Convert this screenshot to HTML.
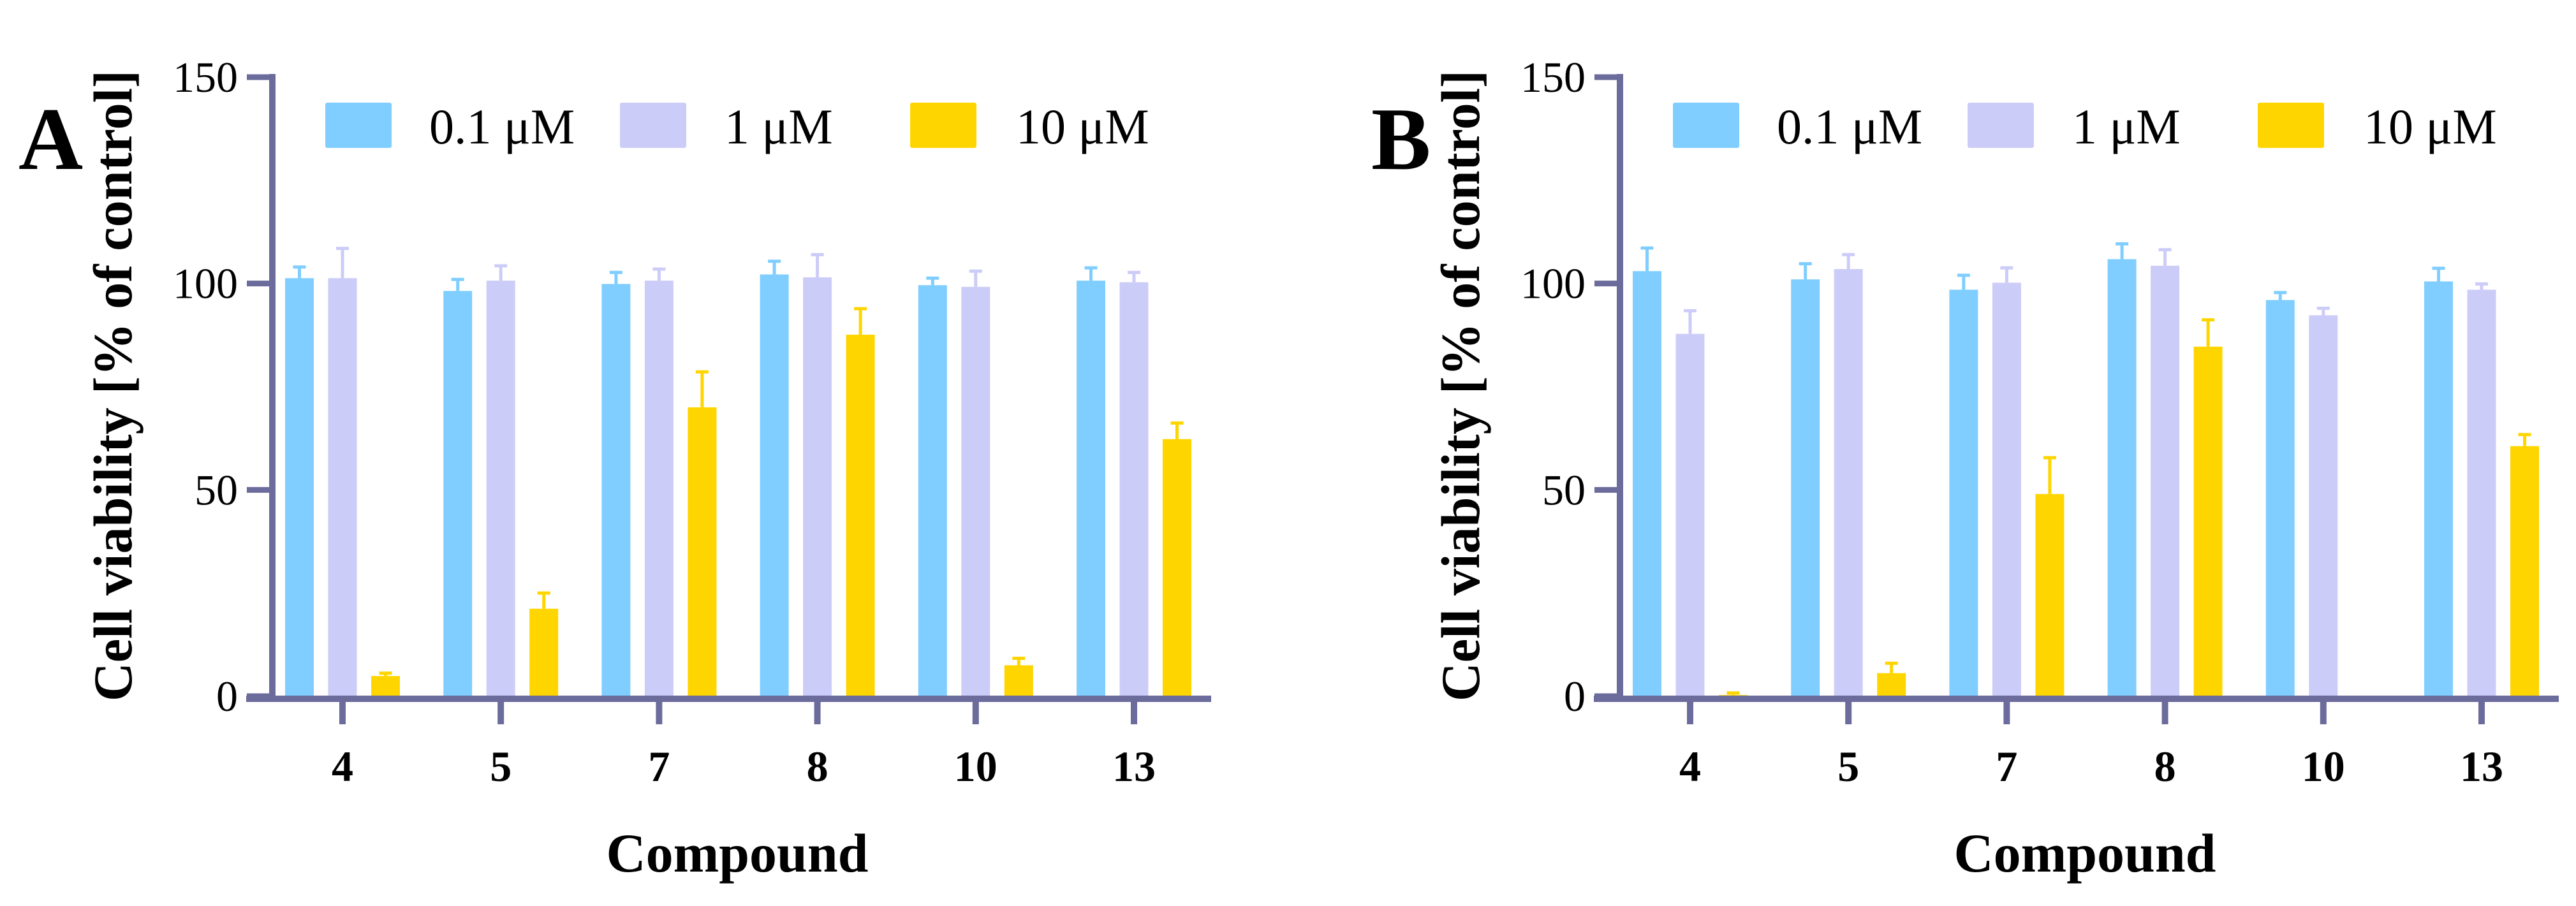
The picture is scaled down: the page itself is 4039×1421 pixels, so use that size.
<!DOCTYPE html>
<html><head><meta charset="utf-8"><style>
html,body{margin:0;padding:0;background:#fff;}
svg{display:block;}
text{font-family:"Liberation Serif",serif;}
</style></head><body>
<svg id="chart" width="4039" height="1421" viewBox="0 0 4039 1421" xmlns="http://www.w3.org/2000/svg"></svg>
<script>
const categories = ["4","5","7","8","10","13"];
const seriesNames = ["0.1 μM","1 μM","10 μM"];
const yTicks = [0,50,100,150];
// Panel A values and upper error ends
const aBlue = [101.3,98.2,99.9,102.2,99.6,100.7];
const aBlueErr = [104,101,102.7,105.4,101.3,103.8];
const aLav = [101.3,100.7,100.7,101.5,99.2,100.3];
const aLavErr = [108.5,104.3,103.5,107,103,102.7];
const aYel = [4.9,21.2,70,87.6,7.5,62.3];
const aYelErr = [5.6,25,78.6,93.9,9.2,66.2];
// Panel B
const bBlue = [103,101,98.5,105.9,96,100.5];
const bBlueErr = [108.6,104.8,102,109.6,97.8,103.7];
const bLav = [87.8,103.5,100.2,104.3,92.3,98.5];
const bLavErr = [93.4,107,103.8,108.2,94,99.9];
const bYel = [0.3,5.6,49,84.7,0,60.6];
const bYelErr = [0.8,8,57.8,91.2,0,63.4];

const NS="http://www.w3.org/2000/svg";
const svg=document.getElementById('chart');
const colors=["#80CEFF","#CCCCF8","#FFD500"];
const AX="#6B6B9C";
function mk(tag,attrs,parent){const e=document.createElementNS(NS,tag);for(const k in attrs)e.setAttribute(k,attrs[k]);(parent||svg).appendChild(e);return e;}
function yS(v){return 1092-(v/150)*(1092-121);}

function panel(off,letter,letterX,vals,errs,pname){
  const g=mk('g',{});
  
  
  const axX=427+off;
  function xS(i){return 537+off+i*248.2;}
  // bars
  for(let s=0;s<3;s++){
    for(let i=0;i<categories.length;i++){
      const v=vals[s][i];
      const cx=xS(i)+(s-1)*67.5;
      const r=mk('rect',{x:cx-22.5,y:yS(v),width:45,height:Math.max(0,yS(0)-yS(v)),fill:colors[s]},g);
      
      
      const e=errs[s][i];
      if(e>v){
        const l=mk('line',{x1:cx,x2:cx,y1:yS(v),y2:yS(e),stroke:colors[s],'stroke-width':5},g);
        
        
        const c=mk('line',{x1:cx-10,x2:cx+10,y1:yS(e),y2:yS(e),stroke:colors[s],'stroke-width':5},g);
        
        
      }
    }
  }
  // axes
  const ya=mk('line',{x1:axX,x2:axX,y1:yS(150)-5,y2:yS(0)+8,stroke:AX,'stroke-width':10},g);
  
  
  const xa=mk('line',{x1:axX-41,x2:axX+1472,y1:yS(0)+4,y2:yS(0)+4,stroke:AX,'stroke-width':10},g);
  
  
  yTicks.forEach(t=>{
    const tk=mk('line',{x1:axX-40,x2:axX,y1:yS(t),y2:yS(t),stroke:AX,'stroke-width':9},g);
    
    
    const tl=mk('text',{x:axX-54,y:yS(t)+23,'text-anchor':'end','font-size':68},g);
    tl.textContent=t;
    
    
  });
  categories.forEach((c,i)=>{
    const tk=mk('line',{x1:xS(i),x2:xS(i),y1:yS(0),y2:yS(0)+44,stroke:AX,'stroke-width':10},g);
    
    
    const tl=mk('text',{x:xS(i),y:1225,'text-anchor':'middle','font-size':68,'font-weight':'bold'},g);
    tl.textContent=c;
    
    
  });
  const xt=mk('text',{x:1156+off,y:1367,'text-anchor':'middle','font-size':86,'font-weight':'bold',textLength:411,lengthAdjust:'spacingAndGlyphs'},g);
  xt.textContent='Compound';
  
  
  const ytX=206+off, ytY=605;
  const yt=mk('text',{x:0,y:0,transform:`translate(${ytX},${ytY}) rotate(-90)`,'text-anchor':'middle','font-size':86,'font-weight':'bold',textLength:990,lengthAdjust:'spacingAndGlyphs'},g);
  yt.textContent='Cell viability [% of control]';
  
  
  const pl=mk('text',{x:letterX,y:265,'font-size':140,'font-weight':'bold'},g);
  pl.textContent=letter;
  
  
  // legend
  const sw=[510,972,1427], tx=[673,1136,1593];
  for(let s=0;s<3;s++){
    const r=mk('rect',{x:sw[s]+off,y:161,width:104,height:71,rx:3,fill:colors[s]},g);
    
    
    const t=mk('text',{x:tx[s]+off,y:225,'font-size':78},g);
    t.textContent=seriesNames[s];
    
    
  }
}
panel(0,'A',29,[aBlue,aLav,aYel],[aBlueErr,aLavErr,aYelErr],'panel-a');
panel(2113,'B',2150,[bBlue,bLav,bYel],[bBlueErr,bLavErr,bYelErr],'panel-b');
</script>
</body></html>
